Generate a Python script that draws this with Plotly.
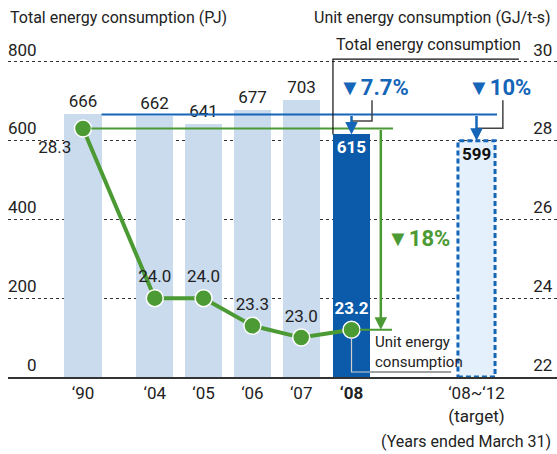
import plotly.graph_objects as go

# Data
years = ["‘90", "‘04", "‘05", "‘06", "‘07", "‘08", "‘08~‘12<br>(target)"]
total_pj = [666, 662, 641, 677, 703, 615, 599]
unit_gj = [28.3, 24.0, 24.0, 23.3, 23.0, 23.2]
cut_total_08 = "▼7.7%"
cut_total_target = "▼10%"
cut_unit_08 = "▼18%"

# Layout helpers (slot positions along x; years are not evenly spaced)
x_pos = [0, 1.47, 2.47, 3.47, 4.47, 5.5, 8.06]
BAR_W = 0.76
FAMILY = "Roboto, Liberation Sans, sans-serif"
LIGHT = "#C9DBEC"
DARK = "#0B5BAA"
TARGET_FILL = "#E4F1FC"
BLUE = "#1565B8"
GREEN = "#4C9A34"
GREY = "#444444"
TXT = "#222222"


def fnt(size=17, color=TXT):
    return dict(family=FAMILY, size=size, color=color)


fig = go.Figure()

# bars
bar_colors = [LIGHT] * 5 + [DARK, TARGET_FILL]
bar_text = [str(v) for v in total_pj[:5]] + [f"<b>{total_pj[5]}</b>", f"<b>{total_pj[6]}</b>"]
fig.add_trace(go.Bar(
    x=x_pos, y=total_pj, width=BAR_W,
    marker=dict(color=bar_colors, line=dict(width=0)),
    text=bar_text, textangle=0,
    textposition=["outside"] * 5 + ["inside", "inside"],
    insidetextanchor="end",
    textfont=dict(family=FAMILY, size=17, color=[TXT] * 5 + ["white", "#111"]),
    constraintext="none", cliponaxis=False,
    hoverinfo="skip", showlegend=False,
))

# line for unit energy
line_text = [f"{v:.1f}" for v in unit_gj[:5]] + [f"<b>{unit_gj[5]:.1f}</b>"]
fig.add_trace(go.Scatter(
    x=x_pos[:6], y=unit_gj, yaxis="y2", mode="lines+markers+text",
    line=dict(color=GREEN, width=4),
    marker=dict(size=17, color=GREEN, line=dict(color="white", width=1.5)),
    text=line_text,
    textposition=["bottom left", "top center", "top center", "top center", "top center", "top center"],
    textfont=dict(family=FAMILY, size=17, color=[TXT] * 5 + ["white"]),
    cliponaxis=False, hoverinfo="skip", showlegend=False,
))

# dashed outline of target bar
xt = x_pos[6]
fig.add_shape(type="rect", x0=xt - BAR_W / 2, x1=xt + BAR_W / 2, y0=0, y1=total_pj[6],
              line=dict(color=BLUE, width=3, dash="5px,3px"), layer="above")

# blue reference line at 1990 level + arrows
fig.add_shape(type="line", x0=x_pos[0] + BAR_W / 2, x1=8.48, y0=total_pj[0], y1=total_pj[0],
              line=dict(color=BLUE, width=2))
for xi, yi in [(x_pos[5], total_pj[5]), (xt, total_pj[6])]:
    fig.add_annotation(x=xi, y=yi, ax=xi, ay=total_pj[0], xref="x", yref="y", axref="x", ayref="y",
                       text="", showarrow=True, arrowhead=2, arrowsize=1, arrowwidth=2.5, arrowcolor=BLUE)

# callouts for percentages
fig.add_shape(type="path", path=f"M 5.92 702 L 5.92 649 L {x_pos[5]} 649", line=dict(color=GREY, width=1.5))
fig.add_shape(type="path", path=f"M 8.60 702 L 8.60 631 L {xt} 631", line=dict(color=GREY, width=1.5))
fig.add_annotation(x=5.20, y=735, xref="x", yref="y", text=f"<b>{cut_total_08}</b>", showarrow=False,
                   xanchor="left", yanchor="middle", font=fnt(22, BLUE))
fig.add_annotation(x=7.85, y=735, xref="x", yref="y", text=f"<b>{cut_total_target}</b>", showarrow=False,
                   xanchor="left", yanchor="middle", font=fnt(22, BLUE))

# green reference lines + arrow
fig.add_shape(type="line", x0=x_pos[0] + 0.17, x1=6.35, y0=unit_gj[0], y1=unit_gj[0], yref="y2",
              line=dict(color=GREEN, width=2))
fig.add_shape(type="line", x0=x_pos[5] + 0.17, x1=6.33, y0=unit_gj[5], y1=unit_gj[5], yref="y2",
              line=dict(color=GREEN, width=2))
fig.add_annotation(x=6.10, y=unit_gj[5], ax=6.10, ay=unit_gj[0], xref="x", yref="y2", axref="x", ayref="y2",
                   text="", showarrow=True, arrowhead=2, arrowsize=1, arrowwidth=2.5, arrowcolor=GREEN)
fig.add_annotation(x=6.18, y=352, xref="x", yref="y", text=f"<b>{cut_unit_08}</b>", showarrow=False,
                   xanchor="left", yanchor="middle", font=fnt(22, GREEN))

# series labels with leader lines
bx0 = x_pos[5] - BAR_W / 2
fig.add_shape(type="path", path=f"M {bx0} {total_pj[5]} L {bx0} 806 L 8.93 806", line=dict(color="#111", width=1.2))
fig.add_annotation(x=bx0 + 0.02, y=842, xref="x", yref="y", text="Total energy consumption", showarrow=False,
                   xanchor="left", yanchor="middle", font=fnt(16))
fig.add_shape(type="path", path=f"M {x_pos[5]} 100 L {x_pos[5]} 12.7 L {x_pos[5] + BAR_W / 2} 12.7",
              line=dict(color="#cfcfcf", width=1.2))
fig.add_shape(type="line", x0=x_pos[5] + BAR_W / 2, x1=7.54, y0=12.7, y1=12.7, line=dict(color=GREY, width=1.2))
fig.add_annotation(x=5.94, y=63, xref="x", yref="y", text="Unit energy<br>consumption", showarrow=False,
                   xanchor="left", yanchor="middle", align="left", font=fnt(15))

# titles
fig.add_annotation(x=0, y=1.035, xref="paper", yref="paper", text="Total energy consumption (PJ)",
                   showarrow=False, xanchor="left", yanchor="middle", font=fnt(16))
fig.add_annotation(x=0.993, y=1.035, xref="paper", yref="paper", text="Unit energy consumption (GJ/t-s)",
                   showarrow=False, xanchor="right", yanchor="middle", font=fnt(16))
fig.add_annotation(x=0.993, y=-0.187, xref="paper", yref="paper", text="(Years ended March 31)",
                   showarrow=False, xanchor="right", yanchor="middle", font=fnt(16))

tick_text = years[:5] + ["<b>‘08</b>", years[6]]
fig.update_layout(
    width=557, height=454,
    margin=dict(l=8, r=0, t=30, b=77, autoexpand=False),
    paper_bgcolor="white", plot_bgcolor="white",
    font=fnt(17),
    bargap=0,
    xaxis=dict(range=[-1.536, 9.709], tickvals=x_pos, ticktext=tick_text, showgrid=False,
               showline=True, linecolor="#333", linewidth=2, ticks="", zeroline=False,
               tickfont=fnt(17), automargin=False),
    yaxis=dict(range=[0, 880], tickvals=[0, 200, 400, 600, 800], showgrid=True, gridcolor="#333",
               gridwidth=1, griddash="3px,3px", zeroline=False, automargin=False,
               anchor="free", position=0.052, ticklabelposition="outside top", ticks="",
               tickfont=fnt(17)),
    yaxis2=dict(range=[22, 30.8], tickvals=[22, 24, 26, 28, 30], overlaying="y", side="right",
                anchor="free", position=0.955, showgrid=False, zeroline=False, automargin=False,
                ticklabelposition="outside top", ticks="",
                tickfont=fnt(17)),
)

# page body has a default 8px margin; drop it so the figure fills the window
fig.write_html("out.html", config={"displayModeBar": False},
               post_script="document.body.style.margin='0';")
